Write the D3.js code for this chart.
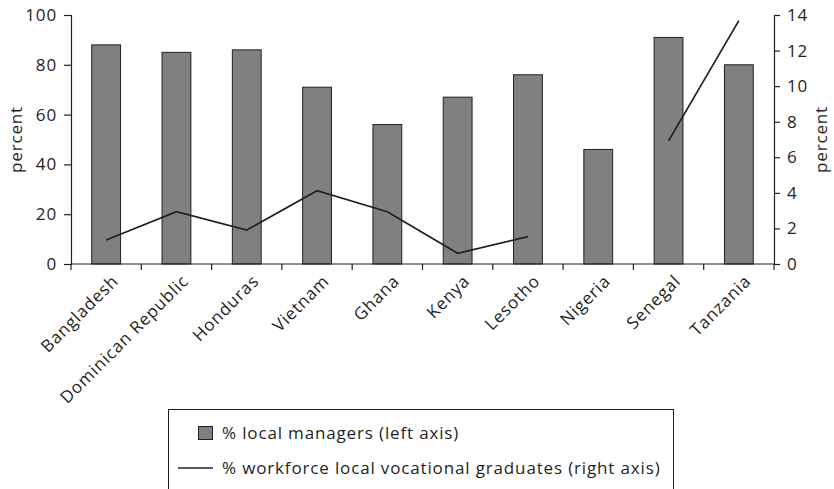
<!DOCTYPE html>
<html><head><meta charset="utf-8">
<script src="https://cdn.jsdelivr.net/npm/d3@7"></script>
<style>
body{margin:0;background:#fff;}
text{font-family:"Open Sans","DejaVu Sans",sans-serif;fill:#231f20;letter-spacing:0.85px;}
</style></head>
<body><svg id="c" width="834" height="489"></svg>
<script>
const categories = ["Bangladesh","Dominican Republic","Honduras","Vietnam","Ghana","Kenya","Lesotho","Nigeria","Senegal","Tanzania"];
const localManagers = [88,85,86,71,56,67,76,46,91,80];
const vocGrads = [1.35,2.94,1.91,4.12,2.94,0.6,1.54,null,6.92,13.68];
const leftTicks = [0,20,40,60,80,100];
const rightTicks = [0,2,4,6,8,10,12,14];

const svg = d3.select("#c");
const L = 71, R = 774, T = 15, B = 264;
const x = d3.scaleBand().domain(categories).range([L,R]).paddingInner(0.59).paddingOuter(0.295);
const xb = d3.scaleBand().domain(categories).range([L,R]);
const yL = d3.scaleLinear().domain([0,100]).range([B,T]);
const yR = d3.scaleLinear().domain([0,14]).range([B,T]);
const fs = 17;
const ff = '"Open Sans","DejaVu Sans",sans-serif';

// bars
svg.selectAll("rect.bar").data(categories).enter().append("rect")
  .attr("x", d=>x(d)).attr("y", (d,i)=>yL(localManagers[i]))
  .attr("width", x.bandwidth()).attr("height",(d,i)=>B-yL(localManagers[i]))
  .attr("fill","#808080").attr("stroke","#231f20").attr("stroke-width",1);

// axes
const axL = svg.append("g").attr("transform",`translate(${L},0)`)
  .call(d3.axisLeft(yL).tickValues(leftTicks).tickSize(7).tickPadding(7));
const axR = svg.append("g").attr("transform",`translate(${R},0)`)
  .call(d3.axisRight(yR).tickValues(rightTicks).tickSize(6).tickPadding(7));
const axB = svg.append("g").attr("transform",`translate(0,${B})`)
  .call(d3.axisBottom(xb).tickValues([]).tickSize(0));
[axL,axR,axB].forEach(g=>{
  g.selectAll("path.domain").attr("stroke","#231f20").attr("stroke-width",1.2);
  g.selectAll("line").attr("stroke","#231f20").attr("stroke-width",1.2);
  g.selectAll("text").style("font-size",fs+"px").attr("fill","#231f20").style("font-family",ff);
});
axB.select("path.domain").attr("d",`M${L},0H${R}`);
// x ticks at band boundaries
const bounds = categories.map(c=>xb(c)).concat([R]);
svg.append("g").selectAll("line").data(bounds).enter().append("line")
  .attr("x1",d=>d).attr("x2",d=>d).attr("y1",B).attr("y2",B+6)
  .attr("stroke","#231f20").attr("stroke-width",1.2);

// category labels
svg.append("g").selectAll("text").data(categories).enter().append("text")
  .attr("transform",d=>`translate(${xb(d)+xb.bandwidth()/2+9},${B+14}) rotate(-45)`)
  .attr("text-anchor","end").attr("dy","0.35em").style("font-size",fs+"px").text(d=>d);

// line
const line = d3.line().defined(d=>d!=null)
  .x((d,i)=>xb(categories[i])+xb.bandwidth()/2).y(d=>yR(d));
svg.append("path").datum(vocGrads).attr("d",line)
  .attr("fill","none").attr("stroke","#231f20").attr("stroke-width",1.7);

// axis titles
svg.append("text").attr("transform",`translate(22,${(T+B)/2}) rotate(-90)`)
  .attr("text-anchor","middle").style("font-size",fs+"px").text("percent");
svg.append("text").attr("transform",`translate(827,${(T+B)/2}) rotate(-90)`)
  .attr("text-anchor","middle").style("font-size",fs+"px").text("percent");

// legend
const lg = svg.append("g");
lg.append("rect").attr("x",168.5).attr("y",409.5).attr("width",505).attr("height",80)
  .attr("fill","none").attr("stroke","#231f20").attr("stroke-width",1);
lg.append("rect").attr("x",198.5).attr("y",426.5).attr("width",14).attr("height",13)
  .attr("fill","#808080").attr("stroke","#231f20");
lg.append("text").attr("x",222).attr("y",433).attr("dy","0.35em").style("font-size",fs+"px").text("% local managers (left axis)");
lg.append("line").attr("x1",178).attr("x2",213).attr("y1",468).attr("y2",468)
  .attr("stroke","#231f20").attr("stroke-width",1.7);
lg.append("text").attr("x",222).attr("y",468).attr("dy","0.35em").style("font-size",fs+"px").text("% workforce local vocational graduates (right axis)");
</script></body></html>
